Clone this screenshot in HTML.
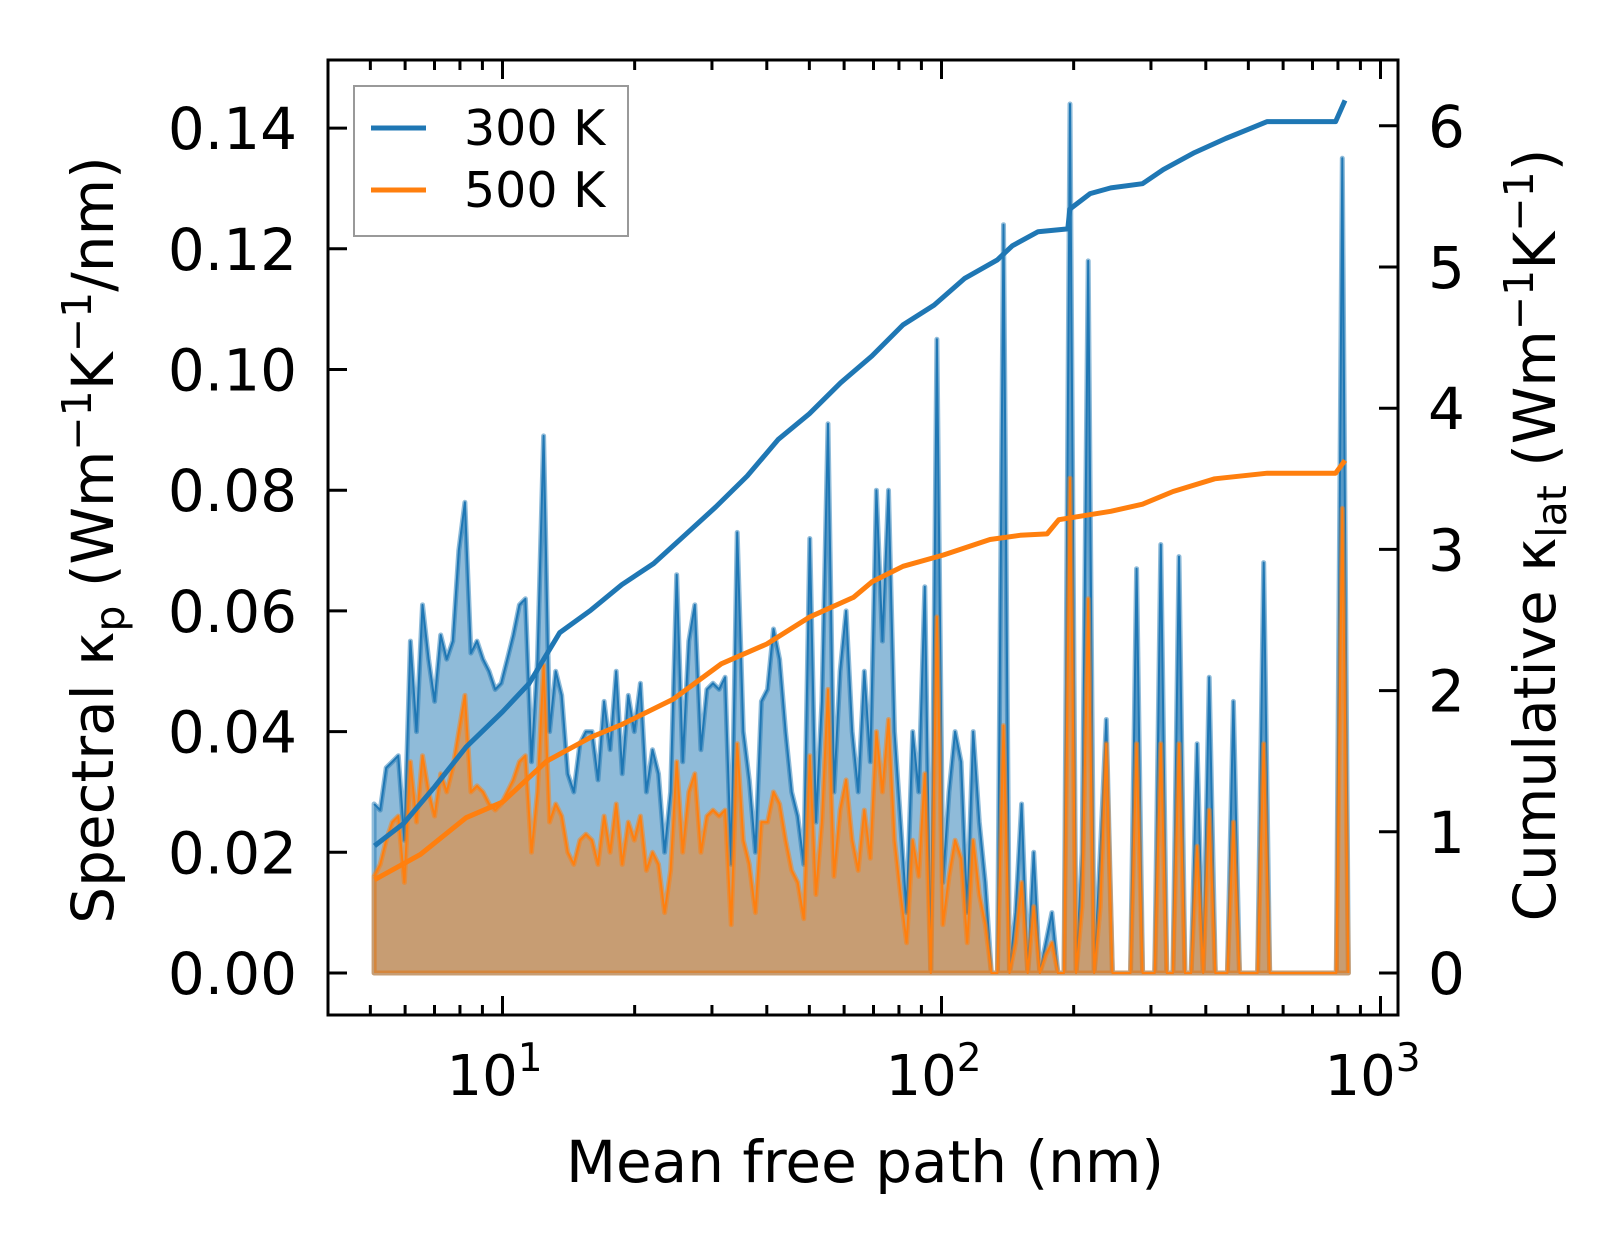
<!DOCTYPE html>
<html><head><meta charset="utf-8"><style>
html,body{margin:0;padding:0;background:#fff}
svg{display:block;font-family:"DejaVu Sans","Liberation Sans",sans-serif}
</style></head><body>
<svg id="chart" width="1623" height="1254" viewBox="0 0 1623 1254" xmlns="http://www.w3.org/2000/svg">
<g id="marks"></g>
<g id="axes"></g>
</svg>
<script>
const mfpStart = 5.1, mfpEnd = 845;
const spectral300 = [0.028,0.027,0.034,0.035,0.036,0.022,0.055,0.040,0.061,0.052,
0.045,0.056,0.052,0.055,0.070,0.078,0.053,0.055,0.052,0.050,
0.047,0.048,0.052,0.056,0.061,0.062,0.035,0.052,0.089,0.040,
0.050,0.046,0.033,0.030,0.038,0.040,0.040,0.032,0.045,0.037,
0.050,0.033,0.046,0.040,0.048,0.030,0.037,0.033,0.020,0.030,
0.066,0.035,0.055,0.061,0.037,0.047,0.048,0.047,0.049,0.018,
0.073,0.040,0.032,0.020,0.045,0.047,0.057,0.052,0.040,0.030,
0.026,0.018,0.072,0.025,0.045,0.091,0.030,0.050,0.060,0.040,
0.030,0.050,0.035,0.080,0.055,0.080,0.040,0.025,0.010,0.040,
0.030,0.064,0.0,0.105,0.015,0.030,0.040,0.035,0.010,0.040,
0.025,0.015,0.0,0.0,0.124,0.0,0.010,0.028,0.0,0.020,
0.0,0.005,0.010,0.0,0.0,0.144,0.0,0.020,0.118,0.0,
0.020,0.042,0.0,0.0,0.0,0.0,0.067,0.0,0.0,0.0,
0.071,0.0,0.0,0.069,0.0,0.0,0.038,0.0,0.049,0.0,
0.0,0.0,0.045,0.0,0.0,0.0,0.0,0.068,0.0,0.0,
0.0,0.0,0.0,0.0,0.0,0.0,0.0,0.0,0.0,0.0,
0.135,0.0];
const spectral500 = [0.016,0.018,0.022,0.025,0.026,0.015,0.035,0.025,0.036,0.030,
0.026,0.033,0.030,0.034,0.040,0.046,0.030,0.031,0.030,0.028,
0.027,0.028,0.030,0.032,0.035,0.036,0.020,0.030,0.051,0.025,
0.028,0.026,0.020,0.018,0.022,0.023,0.022,0.018,0.026,0.020,
0.028,0.018,0.025,0.022,0.026,0.017,0.020,0.018,0.010,0.017,
0.035,0.020,0.030,0.033,0.020,0.026,0.027,0.026,0.027,0.008,
0.038,0.022,0.018,0.010,0.025,0.025,0.030,0.028,0.022,0.017,
0.015,0.009,0.036,0.013,0.025,0.047,0.016,0.027,0.032,0.022,
0.017,0.027,0.019,0.040,0.030,0.042,0.022,0.013,0.005,0.022,
0.016,0.033,0.0,0.059,0.008,0.016,0.022,0.019,0.005,0.022,
0.013,0.008,0.0,0.0,0.041,0.0,0.005,0.015,0.0,0.011,
0.0,0.003,0.005,0.0,0.0,0.082,0.0,0.011,0.062,0.0,
0.011,0.038,0.0,0.0,0.0,0.0,0.038,0.0,0.0,0.0,
0.038,0.0,0.0,0.038,0.0,0.0,0.021,0.0,0.027,0.0,
0.0,0.0,0.025,0.0,0.0,0.0,0.0,0.038,0.0,0.0,
0.0,0.0,0.0,0.0,0.0,0.0,0.0,0.0,0.0,0.0,
0.077,0.0];
const cumMfp300 = [5.11,5.96,7.01,8.26,10,11.5,13.5,15.9,18.7,22.1,26.0,30.6,36.1,42.5,50.0,58.9,69.4,81.7,96.2,113,134,145,166,194,196,218,243,287,320,377,444,552,790,830];
const cum300 = [0.90,1.06,1.32,1.60,1.85,2.05,2.41,2.57,2.75,2.90,3.10,3.30,3.52,3.78,3.96,4.18,4.37,4.59,4.73,4.92,5.05,5.15,5.25,5.27,5.41,5.52,5.56,5.59,5.69,5.81,5.91,6.03,6.03,6.18];
const cumMfp500 = [5.11,6.5,8.26,10,12.6,15.9,18.7,24.5,31.5,40,50,63,69.4,81.7,101,129,151,174,185,243,287,337,419,552,790,830];
const cum500 = [0.66,0.84,1.10,1.21,1.50,1.67,1.76,1.94,2.19,2.33,2.52,2.66,2.77,2.88,2.96,3.07,3.10,3.11,3.21,3.27,3.32,3.41,3.50,3.54,3.54,3.63];
const yLeftTicks = ["0.00","0.02","0.04","0.06","0.08","0.10","0.12","0.14"];
const yRightTicks = ["0","1","2","3","4","5","6"];
const xTickExps = [1,2,3];

const L=328,R=1398,T=60,B=1015;
const xs = v => 502.5 + (Math.log10(v)-1)*439;
const yl = v => 973 - v/0.02*120.7;
const yr = v => 973 - v*141.2;
const NS='http://www.w3.org/2000/svg';
const marks=document.getElementById('marks'), axes=document.getElementById('axes');
function mk(tag, attrs, parent){const e=document.createElementNS(NS,tag);for(const k in attrs)e.setAttribute(k,attrs[k]);parent.appendChild(e);return e;}
function gridX(i,n){return Math.pow(10, Math.log10(mfpStart)+(Math.log10(mfpEnd)-Math.log10(mfpStart))*i/(n-1));}

function spectral(vals,color,name){
  const pts=vals.map((v,i)=>[xs(gridX(i,vals.length)), yl(v)]);
  const poly=pts.map(p=>p[0].toFixed(1)+','+p[1].toFixed(1)).join(' ');
  const full=poly+' '+pts[pts.length-1][0].toFixed(1)+','+yl(0)+' '+pts[0][0].toFixed(1)+','+yl(0);
  const f=mk('polygon',{points:full,fill:color,'fill-opacity':0.5,stroke:color,'stroke-opacity':0.5,'stroke-width':5,'stroke-linejoin':'round'},marks);
  
  
  const l=mk('polyline',{points:poly,fill:'none',stroke:color,'stroke-width':2,'stroke-linejoin':'round'},marks);
  
  
}
spectral(spectral300,'#1f77b4','spectral-300k');
spectral(spectral500,'#ff7f0e','spectral-500k');
function cum(mf,vals,color,name){
  const poly=vals.map((v,i)=>xs(mf[i]).toFixed(1)+','+yr(v).toFixed(1)).join(' ');
  const l=mk('polyline',{points:poly,fill:'none',stroke:color,'stroke-width':5,'stroke-linejoin':'round'},marks);
  
  
}
cum(cumMfp300,cum300,'#1f77b4','cumulative-300k');
cum(cumMfp500,cum500,'#ff7f0e','cumulative-500k');

const fr=mk('rect',{x:L,y:T,width:R-L,height:B-T,fill:'none',stroke:'#000','stroke-width':3},axes);


yLeftTicks.forEach(t=>{const y=yl(parseFloat(t));
  mk('line',{x1:L,x2:L+19,y1:y,y2:y,stroke:'#000','stroke-width':3},axes);
  const tx=mk('text',{x:297,y:y+21,'text-anchor':'end','font-size':58},axes);tx.textContent=t;
  
  
});
yRightTicks.forEach(t=>{const y=yr(parseFloat(t));
  mk('line',{x1:R-19,x2:R,y1:y,y2:y,stroke:'#000','stroke-width':3},axes);
  const tx=mk('text',{x:1428,y:y+21,'font-size':58},axes);tx.textContent=t;
  
  
});
for(let e=0;e<=3;e++){for(let m=1;m<10;m++){const v=m*Math.pow(10,e);const x=xs(v);if(x<L+2||x>R-2)continue;
  const len=m===1?19:10;
  mk('line',{x1:x,x2:x,y1:B,y2:B-len,stroke:'#000','stroke-width':3},axes);
  mk('line',{x1:x,x2:x,y1:T,y2:T+len,stroke:'#000','stroke-width':3},axes);}}
xTickExps.forEach(e=>{const x=xs(Math.pow(10,e));
  const tx=mk('text',{x:x-8,y:1095,'text-anchor':'middle','font-size':56},axes);
  tx.textContent='10';
  const sp=mk('tspan',{dy:-24,'font-size':39},tx);sp.textContent=String(e);
  
  
});
</script>
<svg style="position:absolute;left:0;top:0" width="1623" height="1254">
<text x="865" y="1182" text-anchor="middle" font-size="58" font-family="DejaVu Sans, Liberation Sans, sans-serif">Mean free path (nm)</text>
<text transform="translate(113,540) rotate(-90)" text-anchor="middle" font-size="58" font-family="DejaVu Sans, Liberation Sans, sans-serif">Spectral κ<tspan font-size="41" dy="11">p</tspan><tspan dy="-11"> (Wm</tspan><tspan font-size="41" dy="-22">−1</tspan><tspan dy="22">K</tspan><tspan font-size="41" dy="-22">−1</tspan><tspan dy="22">/nm)</tspan></text>
<text transform="translate(1555,535) rotate(-90)" text-anchor="middle" font-size="58" font-family="DejaVu Sans, Liberation Sans, sans-serif">Cumulative κ<tspan font-size="41" dy="11">lat</tspan><tspan dy="-11"> (Wm</tspan><tspan font-size="41" dy="-22">−1</tspan><tspan dy="22">K</tspan><tspan font-size="41" dy="-22">−1</tspan><tspan dy="22">)</tspan></text>
<g>
<rect x="354" y="86" width="274" height="150" fill="#fff" fill-opacity="0.8" stroke="#999" stroke-width="2"/>
<line x1="371" x2="426" y1="128" y2="128" stroke="#1f77b4" stroke-width="5"/>
<text x="464" y="145" font-size="49" font-family="DejaVu Sans, Liberation Sans, sans-serif">300 K</text>
<line x1="371" x2="426" y1="190" y2="190" stroke="#ff7f0e" stroke-width="5"/>
<text x="464" y="207" font-size="49" font-family="DejaVu Sans, Liberation Sans, sans-serif">500 K</text>
</g>
</svg>
</body></html>
